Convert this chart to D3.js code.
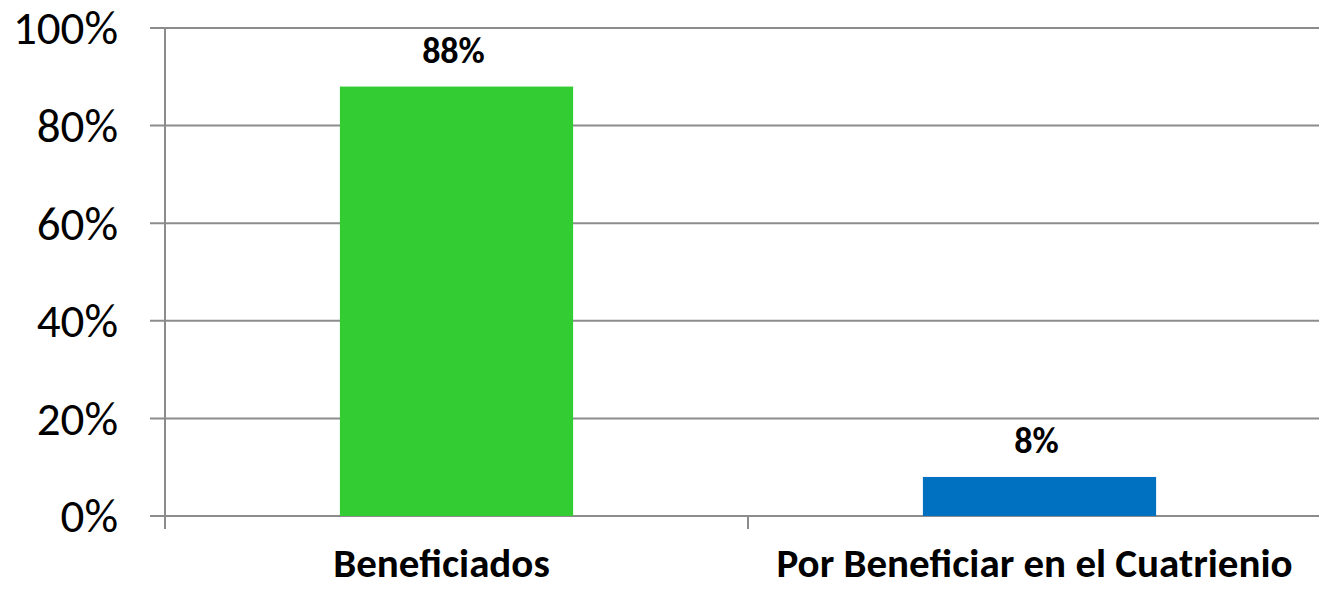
<!DOCTYPE html>
<meta charset="utf-8">
<script src="https://d3js.org/d3.v7.min.js"></script>
<style>
  body { margin: 0; background: #fff; }
  svg { display: block; font-family: Carlito, "Open Sans", "Liberation Sans", sans-serif; }
</style>
<body></body>
<script>
  // data
  var categories = ['Beneficiados', 'Por Beneficiar en el Cuatrienio'];
  var values = [0.88, 0.08];
  var colors = ['#33CC33', '#0070C0'];
  var yTicks = [0, 0.2, 0.4, 0.6, 0.8, 1.0];

  var width = 1319, height = 589;
  var plotLeft = 165, plotRight = 1331, plotTop = 28, plotBottom = 516;

  var svg = d3.select('body').append('svg')
    .attr('width', width).attr('height', height);

  var x = d3.scaleBand().domain(categories).range([plotLeft, plotRight]);
  var y = d3.scaleLinear().domain([0, 1]).range([plotBottom, plotTop]);
  var barW = x.bandwidth() * 0.4;

  // gridlines
  svg.append('g').selectAll('line').data(yTicks).enter().append('line')
    .attr('x1', plotLeft - 15).attr('x2', width)
    .attr('y1', function(d) { return y(d); })
    .attr('y2', function(d) { return y(d); })
    .attr('stroke', '#8c8c8c').attr('stroke-width', 2);

  // y axis line
  svg.append('line')
    .attr('x1', plotLeft).attr('x2', plotLeft)
    .attr('y1', y(1)).attr('y2', plotBottom + 13)
    .attr('stroke', '#8c8c8c').attr('stroke-width', 2);

  // category ticks
  svg.append('g').selectAll('line').data(categories.slice(1)).enter().append('line')
    .attr('x1', function(d) { return x(d); })
    .attr('x2', function(d) { return x(d); })
    .attr('y1', plotBottom).attr('y2', plotBottom + 13)
    .attr('stroke', '#8c8c8c').attr('stroke-width', 2);

  // y tick labels
  svg.append('g').selectAll('text').data(yTicks).enter().append('text')
    .attr('x', 118)
    .attr('y', function(d) { return y(d); })
    .attr('dy', '0.35em')
    .attr('text-anchor', 'end')
    .attr('font-size', 47)
    .attr('fill', '#000')
    .text(d3.format('.0%'));

  // bars
  svg.append('g').selectAll('rect').data(values).enter().append('rect')
    .attr('x', function(d, i) { return x(categories[i]) + (x.bandwidth() - barW) / 2; })
    .attr('y', function(d) { return y(d); })
    .attr('width', barW)
    .attr('height', function(d) { return plotBottom - y(d); })
    .attr('fill', function(d, i) { return colors[i]; });

  // value labels
  svg.append('g').selectAll('text').data(values).enter().append('text')
    .attr('x', function(d, i) { return x(categories[i]) + x.bandwidth() / 2 - 3; })
    .attr('y', function(d) { return y(d) - 24; })
    .attr('text-anchor', 'middle')
    .attr('font-size', 36)
    .attr('font-weight', 'bold')
    .text(d3.format('.0%'));

  // category labels
  svg.append('g').selectAll('text').data(categories).enter().append('text')
    .attr('x', function(d, i) { return x(d) + x.bandwidth() / 2 + (i ? -5 : -15); })
    .attr('y', 577)
    .attr('text-anchor', 'middle')
    .attr('font-size', 41)
    .attr('font-weight', 'bold')
    .text(function(d) { return d; });
</script>
